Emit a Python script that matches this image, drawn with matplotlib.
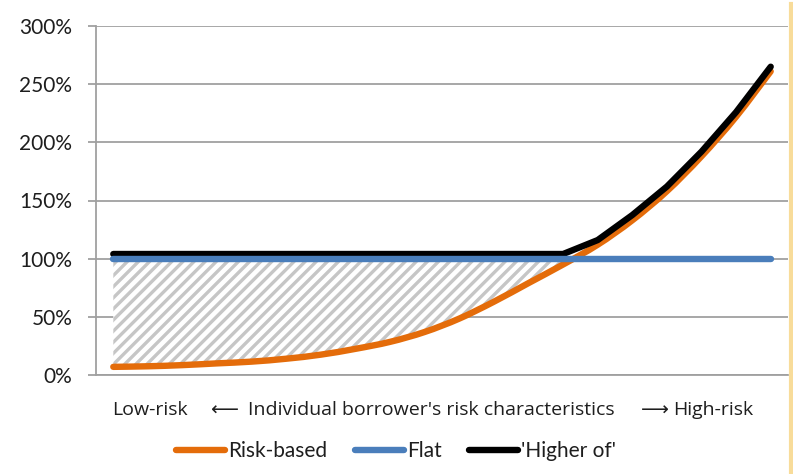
import matplotlib
matplotlib.use('Agg')
import matplotlib.pyplot as plt
import matplotlib.ticker as mticker
from matplotlib.path import Path
from matplotlib.patches import PathPatch
import numpy as np

# Risk weight by borrower bucket (low-risk on the left, high-risk on the right)
buckets = list(range(20))
risk_based = [7, 7.5, 8.5, 10, 11.5, 14, 17.5, 22.5, 28.5, 37,
              48.5, 63, 79, 95, 112, 133, 158, 188, 222, 261]
flat = [100] * 20
higher_of = [104, 104, 104, 104, 104, 104, 104, 104, 104, 104,
             104, 104, 104, 104, 116, 137.5, 162, 192, 226, 265]

y_ticks = [0, 50, 100, 150, 200, 250, 300]
legend_labels = ['Risk-based', 'Flat', "'Higher of'"]

orange = '#e46c0a'
blue = '#4a7ebb'
grid_grey = '#a0a0a0'
text_col = '#1e1e1e'

plt.rcParams['font.family'] = ['Lato', 'DejaVu Sans']
plt.rcParams['hatch.linewidth'] = 2.4
plt.rcParams['hatch.color'] = '#c6c6c6'


def smooth_path(xs, ys, k=1 / 6):
    # bezier segments through every point, like a spreadsheet "smoothed line"
    xs = np.asarray(xs, float)
    ys = np.asarray(ys, float)
    n = len(xs)
    verts = [(xs[0], ys[0])]
    codes = [Path.MOVETO]
    for i in range(n - 1):
        p0 = max(i - 1, 0)
        p3 = min(i + 2, n - 1)
        c1 = (xs[i] + (xs[i + 1] - xs[p0]) * k, ys[i] + (ys[i + 1] - ys[p0]) * k)
        c2 = (xs[i + 1] - (xs[p3] - xs[i]) * k, ys[i + 1] - (ys[p3] - ys[i]) * k)
        verts += [c1, c2, (xs[i + 1], ys[i + 1])]
        codes += [Path.CURVE4] * 3
    return Path(verts, codes)


fig = plt.figure(figsize=(7.93, 4.74), dpi=100)
ax = fig.add_axes([96 / 793, 1 - 375 / 474, 692 / 793, 349 / 474])

x = np.array(buckets)
rb = np.array(risk_based)
fl = np.array(flat)

# shaded gap between the risk-based weight and the flat weight
ax.fill_between(x, rb, fl, where=rb <= fl, interpolate=True,
                facecolor='white', hatch='///', edgecolor='#c6c6c6',
                linewidth=0, zorder=2)

ax.add_patch(PathPatch(smooth_path(x, risk_based), facecolor='none', edgecolor=orange,
                       lw=4.6, capstyle='round', joinstyle='round', zorder=3))
l1, = ax.plot([], [], color=orange, lw=4.6, solid_capstyle='round')
l3, = ax.plot(x, higher_of, color='black', lw=4.6, solid_capstyle='round', zorder=4)
l2, = ax.plot(x, flat, color=blue, lw=4.6, solid_capstyle='round', zorder=5)

ax.set_xlim(-0.5, 19.5)
ax.set_ylim(0, 300)
ax.set_yticks(y_ticks)
ax.yaxis.set_major_formatter(mticker.FuncFormatter(lambda v, p: '{:d}%'.format(int(v))))
ax.set_xticks([])

ax.grid(axis='y', color=grid_grey, lw=1.3, zorder=1)
ax.set_axisbelow(True)
for side in ['top', 'right']:
    ax.spines[side].set_visible(False)
ax.spines['left'].set_color(grid_grey)
ax.spines['left'].set_linewidth(1.3)
ax.spines['bottom'].set_color(grid_grey)
ax.spines['bottom'].set_linewidth(1.3)
ax.tick_params(axis='y', length=6, width=1.3, color=grid_grey, pad=11,
               labelsize=15, labelcolor=text_col)

# axis caption with direction arrows
cap_y = 1 - 410 / 474
cap_font = ['Open Sans', 'DejaVu Sans']
fig.text(112 / 793, cap_y, 'Low-risk', fontsize=14, family=cap_font,
         color=text_col, va='center', ha='left')
fig.text(224 / 793, cap_y, '\u27f5', fontsize=14, family=['DejaVu Sans'],
         color=text_col, va='center', ha='center')
fig.text(248 / 793, cap_y, "Individual borrower's risk characteristics", fontsize=14,
         family=cap_font, color=text_col, va='center', ha='left')
fig.text(655 / 793, cap_y, '\u27f6', fontsize=14, family=['DejaVu Sans'],
         color=text_col, va='center', ha='center')
fig.text(673 / 793, cap_y, 'High-risk', fontsize=14, family=cap_font,
         color=text_col, va='center', ha='left')

fig.legend([l1, l2, l3], legend_labels, loc='center', ncol=3,
           bbox_to_anchor=(396 / 793, 1 - 451 / 474), frameon=False,
           fontsize=15, handlelength=2.35, handletextpad=0.15,
           columnspacing=1.3, labelcolor=text_col)

# pale frame edge on the right
fig.add_artist(plt.Line2D([791 / 793, 791 / 793], [0, 1 - 4 / 474],
                          color='#f8dc9a', lw=3, transform=fig.transFigure))

fig.savefig('out.png', dpi=100)
